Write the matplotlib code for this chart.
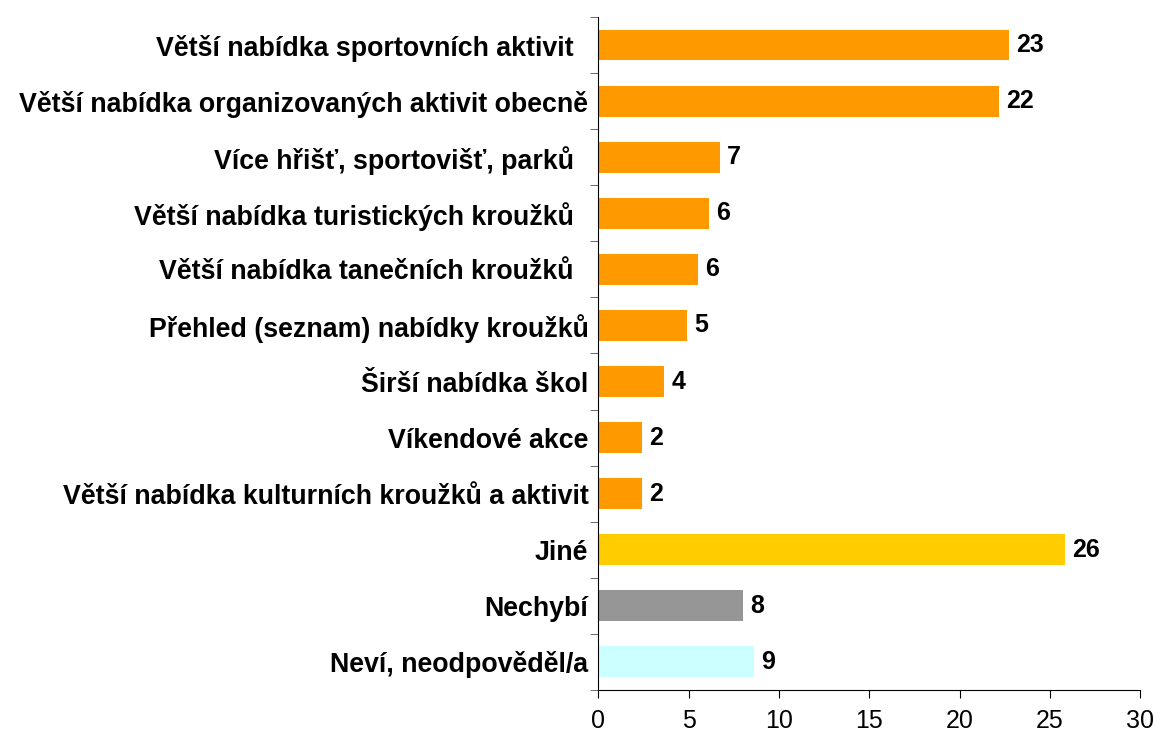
import numpy as np
import matplotlib
matplotlib.use('Agg')
import matplotlib.pyplot as plt

# data (labels show rounded values)
categories = [
    'Větší nabídka sportovních aktivit  ',
    'Větší nabídka organizovaných aktivit obecně',
    'Více hřišť, sportovišť, parků  ',
    'Větší nabídka turistických kroužků  ',
    'Větší nabídka tanečních kroužků  ',
    'Přehled (seznam) nabídky kroužků',
    'Širší nabídka škol',
    'Víkendové akce',
    'Větší nabídka kulturních kroužků a aktivit',
    'Jiné',
    'Nechybí',
    'Neví, neodpověděl/a',
]
values = [22.75, 22.19, 6.75, 6.14, 5.53, 4.93, 3.65, 2.43, 2.43, 25.84, 8.02, 8.63]
colors = ['#FF9900'] * 9 + ['#FFCC00', '#969696', '#CCFFFF']

plt.rcParams['font.family'] = ['Liberation Sans', 'DejaVu Sans']

fig = plt.figure(figsize=(11.57, 7.34), dpi=100)
ax = fig.add_axes([0.517, 0.060, 0.4685, 0.9168])

y = np.arange(len(categories))
ax.barh(y, values, height=0.55, color=colors)
ax.set_ylim(len(categories) - 0.5, -0.5)
ax.set_xlim(0, 30)

for yi, v in zip(y, values):
    ax.text(v + 0.4, yi, f'{v:.0f}', va='center', ha='left',
            fontsize=18, fontweight='bold')

ax.set_yticks(y)
ax.set_yticklabels(categories, fontsize=19.3, fontweight='bold')
ax.tick_params(axis='y', length=0, pad=7)
ax.set_yticks(np.arange(len(categories) + 1) - 0.5, minor=True)
ax.tick_params(axis='y', which='minor', length=6, direction='out', color='#555555')

ax.set_xticks(np.arange(0, 31, 5))
ax.tick_params(axis='x', length=6, direction='out', labelsize=18, pad=8)

for s in ['top', 'right']:
    ax.spines[s].set_visible(False)
ax.spines['left'].set_color('#000000')
ax.spines['bottom'].set_color('#000000')

fig.savefig('out.png', dpi=100)
